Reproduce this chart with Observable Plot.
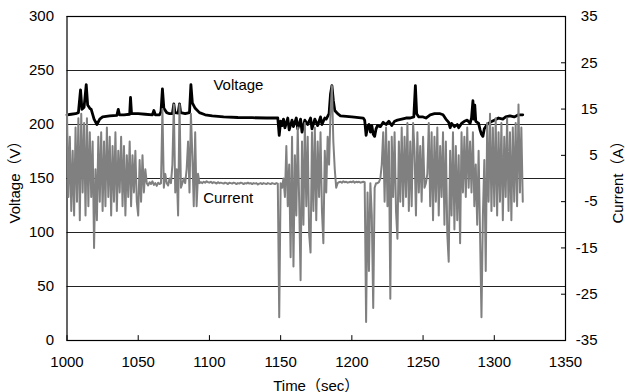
<!DOCTYPE html>
<html>
<head>
<meta charset="utf-8">
<script src="https://cdn.jsdelivr.net/npm/d3@7"></script>
<script src="https://cdn.jsdelivr.net/npm/@observablehq/plot@0.6"></script>
<style>
  html, body { margin: 0; padding: 0; background: #fff; }
</style>
</head>
<body>
<div id="chart"></div>
<script>
// ---- tick labels ----
const timeTicks = [1000, 1050, 1100, 1150, 1200, 1250, 1300, 1350];
const voltageTicks = [0, 50, 100, 150, 200, 250, 300];
const currentTicks = [-35, -25, -15, -5, 5, 15, 25, 35];

// ---- current series (A), one sample per second from 1000 s ----
const currentStart = 1000;
const currentValues = [
  14, -4, 9, -7, 6, -8, 11, -5, 13, -9,
  14, -3, 12, -8, 13, -6, 10, -4, 8, -15,
  2, -9, 9, -5, 10, -7, 8, -6, 11, -4,
  9, -8, 7, -5, 10, -7, 6, -3, 9, -6,
  7, -8, 5, -4, 8, -6, 5, -3, 6, -5,
  -8, 4, -5, 5, -3, 2, -1, -1.5, -0.8, -1.2,
  -0.6, -1.4, -1, -1.6, -0.9, -1.2, -1, 15, -2, 1,
  -1, -1.5, 0, -1, 3, 16, -3, 2, -8, 16,
  -2, -1, 0, -1, 2, 8, -3, 14, 5, -6,
  10, -6, 1, -1, -0.8, -1, -0.7, -0.9, -0.6, -0.8,
  -0.9, -0.7, -1, -0.8, -0.9, -1.1, -0.8, -1, -0.9, -1,
  -1.1, -0.9, -1, -1.2, -0.9, -1, -1.1, -0.9, -1, -1.2,
  -1, -1.1, -0.9, -1, -1.2, -1, -1.1, -0.9, -1.1, -1,
  -1.2, -1, -1.1, -1, -1.3, -1.1, -1, -1.2, -1, -1.1,
  -1.2, -1, -1.1, -1.2, -1, -1.1, -1.2, -1, -1.1, -30,
  -1, -2, 0, -4, 7, -6, 3, -17, 9, -19,
  5, -8, 11, -5, -22, 8, -10, 12, -6, 9,
  -12, -16, 10, -7, 11, -9, 8, -4, 10, -7,
  -14, 6, -3, 9, 3, 14, 20, 8, 2, -2,
  -1, -0.8, -0.7, -0.9, -0.6, -0.8, -0.7, -0.9, -0.8, -0.7,
  -0.8, -0.6, -0.9, -0.7, -0.8, -0.7, -0.9, -0.8, -0.7, -0.8,
  -31, -3, -20, -1, -8, -28, -2, -1, -1, -0.8,
  0, 3, 10, -5, 11, -6, 8, -26, 9, -4,
  10, -7, -13, 8, -5, 11, -6, 9, -4, 12,
  -7, 8, -6, 12, 6, -8, 10, -3, 7, -5,
  9, -2, -1, 1, 12, -6, 10, -9, 9, -5,
  11, -8, 7, -4, 10, -10, 8, -12, -18, 6,
  -8, 10, -11, 7, -9, 5, -14, 10, -3, 9,
  -4, 11, -2, 8, -3, 10, -6, 3, -10, 6,
  -12, -30, -8, 4, -20, 12, -5, 14, -7, 11,
  -6, 13, -8, 10, -5, 12, -9, 9, -4, 13,
  -7, 10, -9, 11, -5, 12, -6, 16, -3, 11,
  -5
];

// ---- voltage series (V) ----
const voltageTimes = [
  1000, 1003, 1006, 1008, 1009.5, 1010.5, 1012, 1013.5, 1014.5, 1016, 1017, 1019, 1021, 1023, 1025,
  1030, 1035, 1036, 1036.8, 1040, 1044, 1044.6, 1045.3, 1050, 1055, 1060, 1061, 1062, 1065, 1066,
  1067, 1068, 1070, 1072, 1074, 1075, 1075.8, 1078, 1079, 1079.8, 1083, 1086, 1087, 1088, 1090,
  1093, 1097, 1102, 1110, 1120, 1130, 1140, 1148,
  1149, 1150, 1151, 1152, 1153, 1155, 1156, 1158, 1159, 1161, 1162, 1164, 1165, 1167, 1169, 1171,
  1172, 1174, 1176, 1178, 1179, 1181, 1182, 1184, 1185, 1186, 1187, 1188, 1190, 1192, 1200, 1208,
  1209, 1210, 1211, 1212, 1213, 1214, 1215, 1216, 1217, 1218, 1220, 1222, 1224, 1226, 1228, 1230,
  1232, 1235, 1238, 1241, 1243.5, 1244.6, 1245.5, 1247, 1250, 1252, 1255, 1258, 1262, 1264,
  1266, 1268, 1269, 1270, 1272, 1274, 1275, 1277, 1279, 1281, 1283, 1284, 1285, 1285.6, 1286.3,
  1287, 1289, 1290, 1291, 1292, 1293, 1295, 1297, 1300, 1303, 1306, 1308, 1311, 1314, 1317, 1320
];
const voltageValues = [
  209, 209.5, 210, 211, 232, 214, 216, 237, 218, 215, 214, 205, 200, 205, 207,
  208, 208.5, 214, 209, 209, 209.5, 225, 210, 210, 209.5, 209, 213, 209, 209, 212,
  233, 215, 211, 210, 210, 219, 211, 210.5, 219, 211, 210, 211, 237, 220, 215,
  211, 209, 208, 207, 206.5, 206.3, 206, 206,
  190, 203, 199, 205, 197, 206, 195, 204, 198, 206, 196, 205, 193, 204, 200, 206,
  196, 205, 199, 207, 200, 206, 205, 210, 228, 236, 222, 213, 210, 208, 207, 206,
  204, 190, 198, 200, 193, 199, 191, 189, 196, 199, 198, 202, 200, 203, 199, 203,
  204, 205, 206, 206, 207, 236, 210, 207, 207, 206, 209, 210, 210, 209,
  205, 202, 197, 201, 198, 200, 197, 201, 203, 204, 201, 206, 222, 205, 218,
  203, 201, 195, 191, 189, 196, 200, 202, 204, 206, 205, 207, 208, 207, 209, 209
];

// ---- annotations ----
const seriesLabels = ["Voltage", "Current"];
const labelTimes = [1102.8, 1095.6];
const labelLevels = [236.5, 131.4];

// current axis (-35..35 A) mapped onto the voltage axis (0..300 V)
const curToV = a => (a + 35) * 300 / 70;
const vToCur = v => v * 70 / 300 - 35;

const voltage = voltageTimes.map((t, i) => ({t, v: voltageValues[i]}));
const current = currentValues.map((a, i) => ({t: currentStart + i, v: curToV(a)}));
const labels = seriesLabels.map((s, i) => ({s, t: labelTimes[i], v: labelLevels[i]}));

const font = "'Liberation Sans', Arial, 'Noto Sans CJK JP', sans-serif";

const chart = Plot.plot({
  width: 625,
  height: 392,
  marginLeft: 66.5,
  marginRight: 60,
  marginTop: 16,
  marginBottom: 52,
  x: {domain: [1000, 1350]},
  y: {domain: [0, 300]},
  style: {fontFamily: font, fontSize: "15px", color: "#000", background: "#fff"},
  marks: [
    Plot.ruleY(voltageTicks, {stroke: "#222", strokeWidth: 1}),
    Plot.ruleX(timeTicks, {x: d => d, y1: 0, y2: 4.5, stroke: "#000", strokeWidth: 1}),
    Plot.ruleY(currentTicks.map(curToV), {y: d => d, x1: 1347.2, x2: 1350, stroke: "#000", strokeWidth: 1}),
    Plot.frame({stroke: "#000", strokeWidth: 1.2}),
    Plot.axisX({
      ticks: timeTicks, tickSize: 0, tickPadding: 16, tickFormat: d => String(d),
      label: "Time（sec）", labelAnchor: "center", labelOffset: 50, labelArrow: "none"
    }),
    Plot.axisY({
      ticks: voltageTicks, tickSize: 0, tickPadding: 13, tickFormat: d => String(d),
      label: "Voltage（V）", labelAnchor: "center", labelOffset: 58, labelArrow: "none"
    }),
    Plot.axisY({
      anchor: "right", ticks: currentTicks.map(curToV), tickSize: 0, tickPadding: 32,
      textAnchor: "end", tickFormat: v => String(Math.round(vToCur(v))),
      label: "Current（A）", labelAnchor: "center", labelOffset: 57, labelArrow: "none"
    }),
    Plot.line(voltage, {x: "t", y: "v", stroke: "#000", strokeWidth: 2.8, strokeLinejoin: "round"}),
    Plot.line(current, {x: "t", y: "v", stroke: "#808080", strokeWidth: 2, strokeLinejoin: "round"}),
    Plot.text(labels, {x: "t", y: "v", text: "s", textAnchor: "start", lineAnchor: "middle", fill: "#000", fontSize: 15})
  ]
});
document.getElementById("chart").appendChild(chart);
</script>
</body>
</html>
